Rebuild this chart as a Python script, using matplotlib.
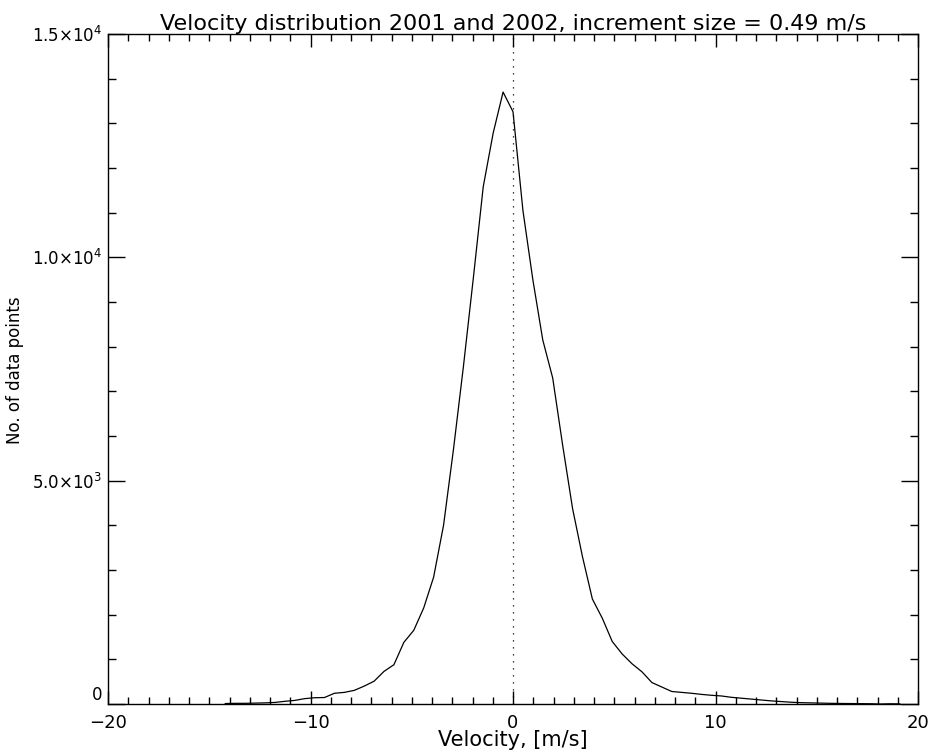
import numpy as np
import matplotlib
matplotlib.use('Agg')
from matplotlib import pyplot as plt
from matplotlib.ticker import MultipleLocator, FixedLocator, FixedFormatter

# velocity bins (increment 0.49 m/s) and counts
step = 0.49
bin_index = list(range(-29, 40))
counts = [10, 15, 15, 20, 25, 35, 60, 80, 120, 140,
          145, 240, 260, 305, 400, 510, 730, 880, 1380, 1650,
          2150, 2840, 4000, 5700, 7550, 9530, 11580, 12780, 13700, 13260,
          11050, 9500, 8150, 7300, 5800, 4380, 3300, 2350, 1920, 1400,
          1120, 900, 720, 480, 380, 280, 260, 240, 215, 195,
          180, 150, 130, 110, 90, 70, 55, 40, 30, 25,
          20, 15, 12, 10, 8, 6, 0, 5, 3]

ytick_vals = [0, 5000, 10000, 15000]
ytick_text = ['0', r'5.0$\times$10$^3$', r'1.0$\times$10$^4$', r'1.5$\times$10$^4$']
xtick_vals = [-20, -10, 0, 10, 20]
xtick_text = ['\u221220', '\u221210', '0', '10', '20']

title = 'Velocity distribution 2001 and 2002, increment size = 0.49 m/s'
xlabel = 'Velocity, [m/s]'
ylabel = 'No. of data points'

velocity = np.array(bin_index) * step

fig = plt.figure(figsize=(9.33, 7.54), dpi=100)
ax = fig.add_axes([108/933, 50/754, 810/933, 670/754])

ax.plot(velocity, counts, color='black', lw=0.9)
ax.axvline(0, color='black', lw=0.9, linestyle=(0, (1, 4.6)))

ax.set_xlim(-20, 20)
ax.set_ylim(0, 15000)

ax.xaxis.set_major_locator(FixedLocator(xtick_vals))
ax.xaxis.set_major_formatter(FixedFormatter(xtick_text))
ax.xaxis.set_minor_locator(MultipleLocator(1))
ax.yaxis.set_major_locator(FixedLocator(ytick_vals))
ax.yaxis.set_major_formatter(FixedFormatter(ytick_text))
ax.yaxis.set_minor_locator(MultipleLocator(1000))

ax.tick_params(axis='both', which='both', direction='in', top=True, right=True,
               labeltop=False, labelright=False, colors='black', width=1.0)
ax.tick_params(axis='x', which='major', length=9.4, labelsize=13, pad=7)
ax.tick_params(axis='x', which='minor', length=5)
ax.tick_params(axis='y', which='major', length=12.2, labelsize=12, pad=4)
ax.tick_params(axis='y', which='minor', length=5.8)
for s in ax.spines.values():
    s.set_linewidth(1.0)
# only the zero label sits above its tick, as in the reference
ax.get_yticklabels()[0].set_verticalalignment('bottom')

ax.set_title(title, fontsize=16, pad=1)
ax.set_xlabel(xlabel, fontsize=15, labelpad=-1)
fig.text(15/933, 1 - 370/754, ylabel, fontsize=12, rotation=90,
         ha='center', va='center')

fig.savefig('out.png', dpi=100)
